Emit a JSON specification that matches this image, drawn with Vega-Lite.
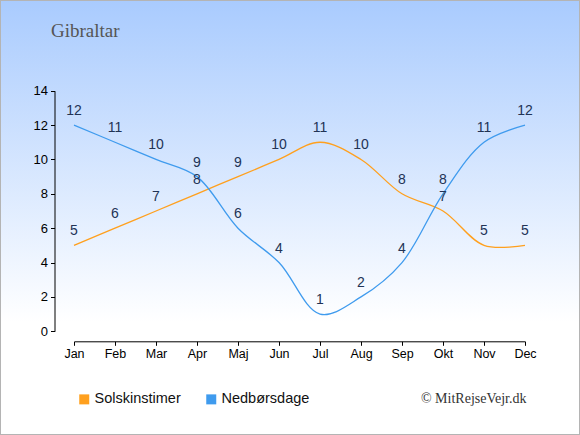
{
  "$schema": "https://vega.github.io/schema/vega-lite/v6.json",
  "width": 580,
  "height": 435,
  "padding": 0,
  "autosize": {"type": "none"},
  "background": "#ffffff",
  "view": {
    "fill": {
      "gradient": "linear",
      "x1": 0, "y1": 0, "x2": 0, "y2": 1,
      "stops": [
        {"offset": 0, "color": "#a9cbfe"},
        {"offset": 0.74, "color": "#ffffff"},
        {"offset": 1, "color": "#ffffff"}
      ]
    },
    "stroke": "#b4b4b4",
    "strokeWidth": 2
  },
  "title": {
    "text": "Gibraltar",
    "anchor": "start",
    "frame": "group",
    "orient": "top",
    "offset": 0,
    "baseline": "alphabetic",
    "dx": 51,
    "dy": 56,
    "font": "Liberation Serif",
    "fontSize": 19,
    "fontWeight": "normal",
    "color": "#555555"
  },
  "data": {
    "values": [
      {"maaned": "Jan", "serie": "Solskinstimer", "vaerdi": 5},
      {"maaned": "Feb", "serie": "Solskinstimer", "vaerdi": 6},
      {"maaned": "Mar", "serie": "Solskinstimer", "vaerdi": 7},
      {"maaned": "Apr", "serie": "Solskinstimer", "vaerdi": 8},
      {"maaned": "Maj", "serie": "Solskinstimer", "vaerdi": 9},
      {"maaned": "Jun", "serie": "Solskinstimer", "vaerdi": 10},
      {"maaned": "Jul", "serie": "Solskinstimer", "vaerdi": 11},
      {"maaned": "Aug", "serie": "Solskinstimer", "vaerdi": 10},
      {"maaned": "Sep", "serie": "Solskinstimer", "vaerdi": 8},
      {"maaned": "Okt", "serie": "Solskinstimer", "vaerdi": 7},
      {"maaned": "Nov", "serie": "Solskinstimer", "vaerdi": 5},
      {"maaned": "Dec", "serie": "Solskinstimer", "vaerdi": 5},
      {"maaned": "Jan", "serie": "Nedbørsdage", "vaerdi": 12},
      {"maaned": "Feb", "serie": "Nedbørsdage", "vaerdi": 11},
      {"maaned": "Mar", "serie": "Nedbørsdage", "vaerdi": 10},
      {"maaned": "Apr", "serie": "Nedbørsdage", "vaerdi": 9},
      {"maaned": "Maj", "serie": "Nedbørsdage", "vaerdi": 6},
      {"maaned": "Jun", "serie": "Nedbørsdage", "vaerdi": 4},
      {"maaned": "Jul", "serie": "Nedbørsdage", "vaerdi": 1},
      {"maaned": "Aug", "serie": "Nedbørsdage", "vaerdi": 2},
      {"maaned": "Sep", "serie": "Nedbørsdage", "vaerdi": 4},
      {"maaned": "Okt", "serie": "Nedbørsdage", "vaerdi": 8},
      {"maaned": "Nov", "serie": "Nedbørsdage", "vaerdi": 11},
      {"maaned": "Dec", "serie": "Nedbørsdage", "vaerdi": 12}
    ]
  },
  "encoding": {
    "x": {
      "field": "maaned",
      "type": "ordinal",
      "scale": {
        "type": "point",
        "domain": ["Jan", "Feb", "Mar", "Apr", "Maj", "Jun", "Jul", "Aug", "Sep", "Okt", "Nov", "Dec"],
        "range": [74, 525],
        "padding": 0
      },
      "axis": {
        "orient": "bottom",
        "offset": -93.7,
        "labelAngle": 0,
        "labelFont": "Liberation Sans",
        "labelFontSize": 12.5,
        "labelColor": "#000000",
        "labelPadding": 2,
        "tickSize": 4,
        "tickColor": "#000000",
        "domainColor": "#000000",
        "grid": false,
        "title": "© MitRejseVejr.dk",
        "titleFont": "Liberation Serif",
        "titleFontSize": 14,
        "titleFontWeight": "normal",
        "titleColor": "#333333",
        "titleAlign": "right",
        "titleAnchor": null,
        "titleBaseline": "middle",
        "titleX": 526,
        "titleY": 57
      }
    },
    "y": {
      "field": "vaerdi",
      "type": "quantitative",
      "scale": {"domain": [0, 14], "range": [331.3, 90.7], "nice": false, "zero": true},
      "axis": {
        "orient": "left",
        "offset": -54.5,
        "values": [0, 2, 4, 6, 8, 10, 12, 14],
        "labelFont": "Liberation Sans",
        "labelFontSize": 13,
        "labelColor": "#000000",
        "labelPadding": 3,
        "tickSize": 4,
        "tickColor": "#000000",
        "domainColor": "#000000",
        "grid": false,
        "title": null
      }
    }
  },
  "layer": [
    {
      "mark": {"type": "line", "interpolate": "catmull-rom", "strokeWidth": 1.3},
      "encoding": {
        "color": {
          "field": "serie",
          "type": "nominal",
          "scale": {"domain": ["Solskinstimer", "Nedbørsdage"], "range": ["#ffa01e", "#3f9bee"]},
          "legend": {
            "orient": "none",
            "legendX": 77,
            "legendY": 392,
            "direction": "horizontal",
            "title": null,
            "padding": 0,
            "symbolType": "square",
            "symbolSize": 100,
            "symbolStrokeWidth": 0,
            "labelFont": "Liberation Sans",
            "labelFontSize": 14.5,
            "labelColor": "#111111",
            "labelOffset": 3,
            "columnPadding": 23,
            "encode": {
              "symbols": {"update": {"fill": {"scale": "color", "field": "value"}, "fillOpacity": {"value": 1}}}
            }
          }
        }
      }
    },
    {
      "mark": {"type": "text", "dy": -14, "align": "center", "baseline": "middle", "font": "Liberation Sans", "fontSize": 14},
      "encoding": {
        "text": {"field": "vaerdi", "type": "quantitative"},
        "color": {"value": "#223355"}
      }
    }
  ]
}
